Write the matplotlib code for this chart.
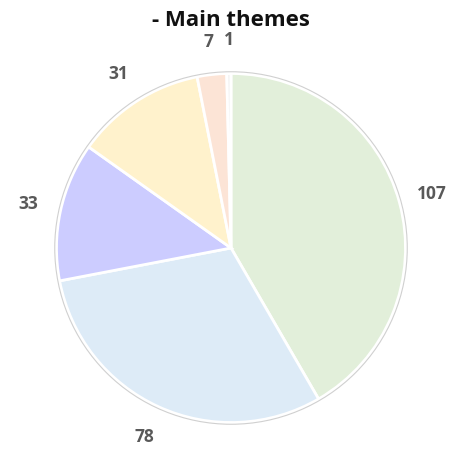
import matplotlib.pyplot as plt
from matplotlib.patches import Circle

plt.rcParams['font.family'] = ['Open Sans', 'DejaVu Sans']

counts = [107, 78, 33, 31, 7, 1]
labels = [str(c) for c in counts]
colors = ['#E2EFDA', '#DDEBF7', '#CCCCFF', '#FFF2CC', '#FCE4D6', '#F2F2F2']

fig = plt.figure(figsize=(4.59, 4.49), dpi=100)
ax = fig.add_axes([53/459, 23/449, 356/459, 356/449])

wedges, texts = ax.pie(counts, labels=labels, colors=colors, startangle=90,
                       counterclock=False, labeldistance=1.19,
                       wedgeprops=dict(edgecolor='white', linewidth=2))
for t in texts:
    t.set_ha('center')
    t.set_va('center')
    t.set_fontsize(12.5)
    t.set_fontweight('bold')
    t.set_color('#595959')

ax.add_patch(Circle((0, 0), 1.01, fill=False, edgecolor='#d0d0d0', linewidth=0.8))
ax.set_xlim(-1.02, 1.02)
ax.set_ylim(-1.02, 1.02)
ax.set_aspect('equal')

fig.text(0.503, 0.955, '- Main themes', ha='center', va='center',
         fontsize=16, fontweight='bold', color='#111111')

plt.savefig('out.png', dpi=100)
plt.close()
